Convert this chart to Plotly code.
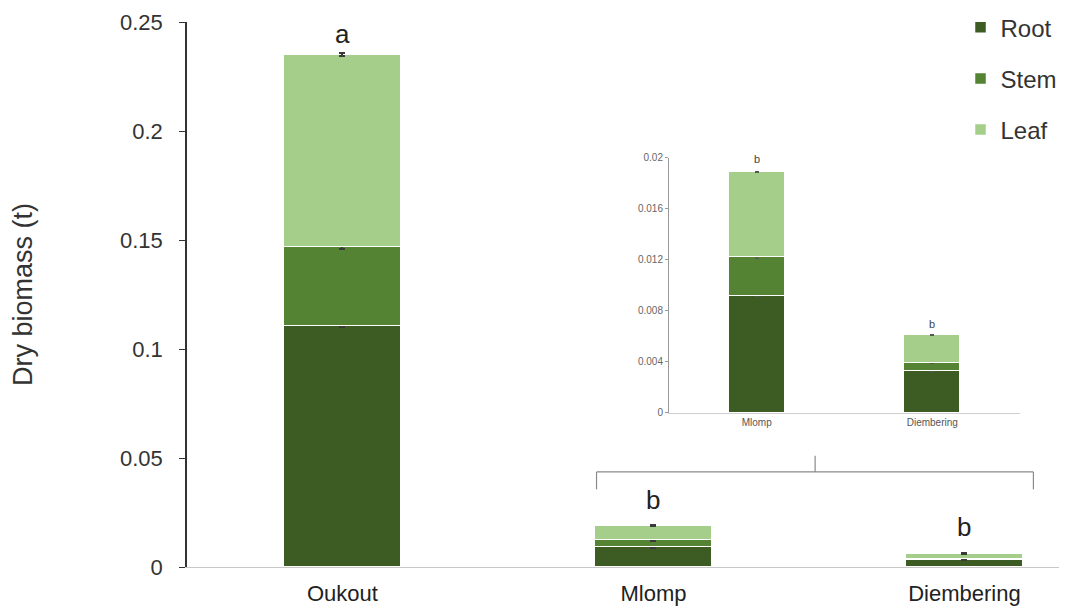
import plotly.graph_objects as go

sites = ["Oukout", "Mlomp", "Diembering"]
root = [0.1105, 0.0092, 0.0033]
stem = [0.0362, 0.0030, 0.0006]
leaf = [0.0883, 0.0067, 0.0022]
root_err = [0.0006, 0.0004, 0.0003]
stem_err = [0.0006, 0.0004, 0.0003]
leaf_err = [0.0006, 0.0003, 0.0003]

inset_sites = ["Mlomp", "Diembering"]
inset_root = root[1:]
inset_stem = stem[1:]
inset_leaf = leaf[1:]

letters = ["a", "b", "b"]

C_ROOT = "#3c5c24"
C_STEM = "#538333"
C_LEAF = "#a5ce8b"
FONT = "Liberation Sans, Arial, sans-serif"

fig = go.Figure()
parts = [("Root", root, root_err, C_ROOT), ("Stem", stem, stem_err, C_STEM), ("Leaf", leaf, leaf_err, C_LEAF)]
for name, vals, errs, col in parts:
    fig.add_trace(go.Bar(
        x=sites, y=vals, name=name, legendgroup=name, marker_color=col,
        marker_line=dict(color="white", width=1.5), width=0.375,
        error_y=dict(type="data", array=errs, color="#3a3a3a", thickness=2, width=3),
        xaxis="x", yaxis="y"))

inset_parts = [(inset_root, C_ROOT), (inset_stem, C_STEM), (inset_leaf, C_LEAF)]
for vals, col in inset_parts:
    fig.add_trace(go.Bar(
        x=inset_sites, y=vals, marker_color=col, showlegend=False,
        marker_line=dict(color="white", width=1), width=0.32,
        error_y=dict(type="data", array=[0.00005, 0.00005], color="#555", thickness=1, width=2),
        xaxis="x2", yaxis="y2"))

# significance letters
letter_y = [0.2445, 0.0307, 0.0183]
for s, l, yy in zip(sites, letters, letter_y):
    fig.add_annotation(x=s, y=yy, text=l, showarrow=False, xref="x", yref="y",
                       font=dict(size=26, color="#222", family=FONT))
inset_letter_y = [0.0199, 0.0070]
for s, yy in zip(inset_sites, inset_letter_y):
    fig.add_annotation(x=s, y=yy, text="b", showarrow=False, xref="x2", yref="y2",
                       font=dict(size=11, color="#444", family=FONT))

# bracket linking inset to the small bars
bc = "#8a8a8a"
fig.add_shape(type="line", xref="x", yref="y", x0=0.817, x1=2.222, y0=0.0436, y1=0.0436, line=dict(color=bc, width=1.2))
fig.add_shape(type="line", xref="x", yref="y", x0=0.817, x1=0.817, y0=0.0436, y1=0.0356, line=dict(color=bc, width=1.2))
fig.add_shape(type="line", xref="x", yref="y", x0=2.222, x1=2.222, y0=0.0436, y1=0.0356, line=dict(color=bc, width=1.2))
fig.add_shape(type="line", xref="x", yref="y", x0=1.52, x1=1.52, y0=0.0436, y1=0.0510, line=dict(color=bc, width=1.2))

# page body has an 8px default margin, so the figure is sized to fit inside the window
fig.update_layout(
    width=1059, height=601,
    margin=dict(l=179, r=0, t=14, b=42, autoexpand=False),
    barmode="stack", bargap=0.0,
    paper_bgcolor="white", plot_bgcolor="white",
    font=dict(family=FONT, color="#333"),
    showlegend=True,
    legend=dict(x=0.879, y=1.031, xanchor="left", yanchor="top", traceorder="grouped",
                tracegroupgap=17, font=dict(size=24, color="#333", family=FONT),
                bgcolor="rgba(0,0,0,0)", itemwidth=30),
    xaxis=dict(domain=[0, 1], range=[-0.5, 2.33], showline=True, linecolor="#c8c8c8", linewidth=1,
               ticks="", tickfont=dict(size=22, color="#222"), ticklabelstandoff=7, automargin=False,
               showgrid=False, zeroline=False, fixedrange=True),
    yaxis=dict(domain=[0, 1], range=[0, 0.25], tickvals=[0, 0.05, 0.1, 0.15, 0.2, 0.25],
               ticktext=["0", "0.05", "0.1", "0.15", "0.2", "0.25"], automargin=False,
               showline=True, linecolor="#333", linewidth=1.5, ticks="outside", ticklen=6,
               tickcolor="#333", tickfont=dict(size=22, color="#333"), ticklabelstandoff=12,
               showgrid=False, zeroline=False,
               title=dict(text="Dry biomass (t)", font=dict(size=27, color="#333"), standoff=82)),
    xaxis2=dict(domain=[0.5477, 0.9466], anchor="y2", range=[-0.5, 1.5], showline=True,
                linecolor="#cfcfcf", linewidth=1, ticks="", tickfont=dict(size=10, color="#555"),
                showgrid=False, zeroline=False, automargin=False),
    yaxis2=dict(domain=[0.2826, 0.7505], anchor="x2", range=[0, 0.02],
                tickvals=[0, 0.004, 0.008, 0.012, 0.016, 0.02],
                ticktext=["0", "0.004", "0.008", "0.012", "0.016", "0.02"],
                showline=True, linecolor="#999", linewidth=1, ticks="outside", ticklen=3,
                tickcolor="#999", tickfont=dict(size=10, color="#666"), automargin=False,
                showgrid=False, zeroline=False),
)

fig.write_html("out.html")
